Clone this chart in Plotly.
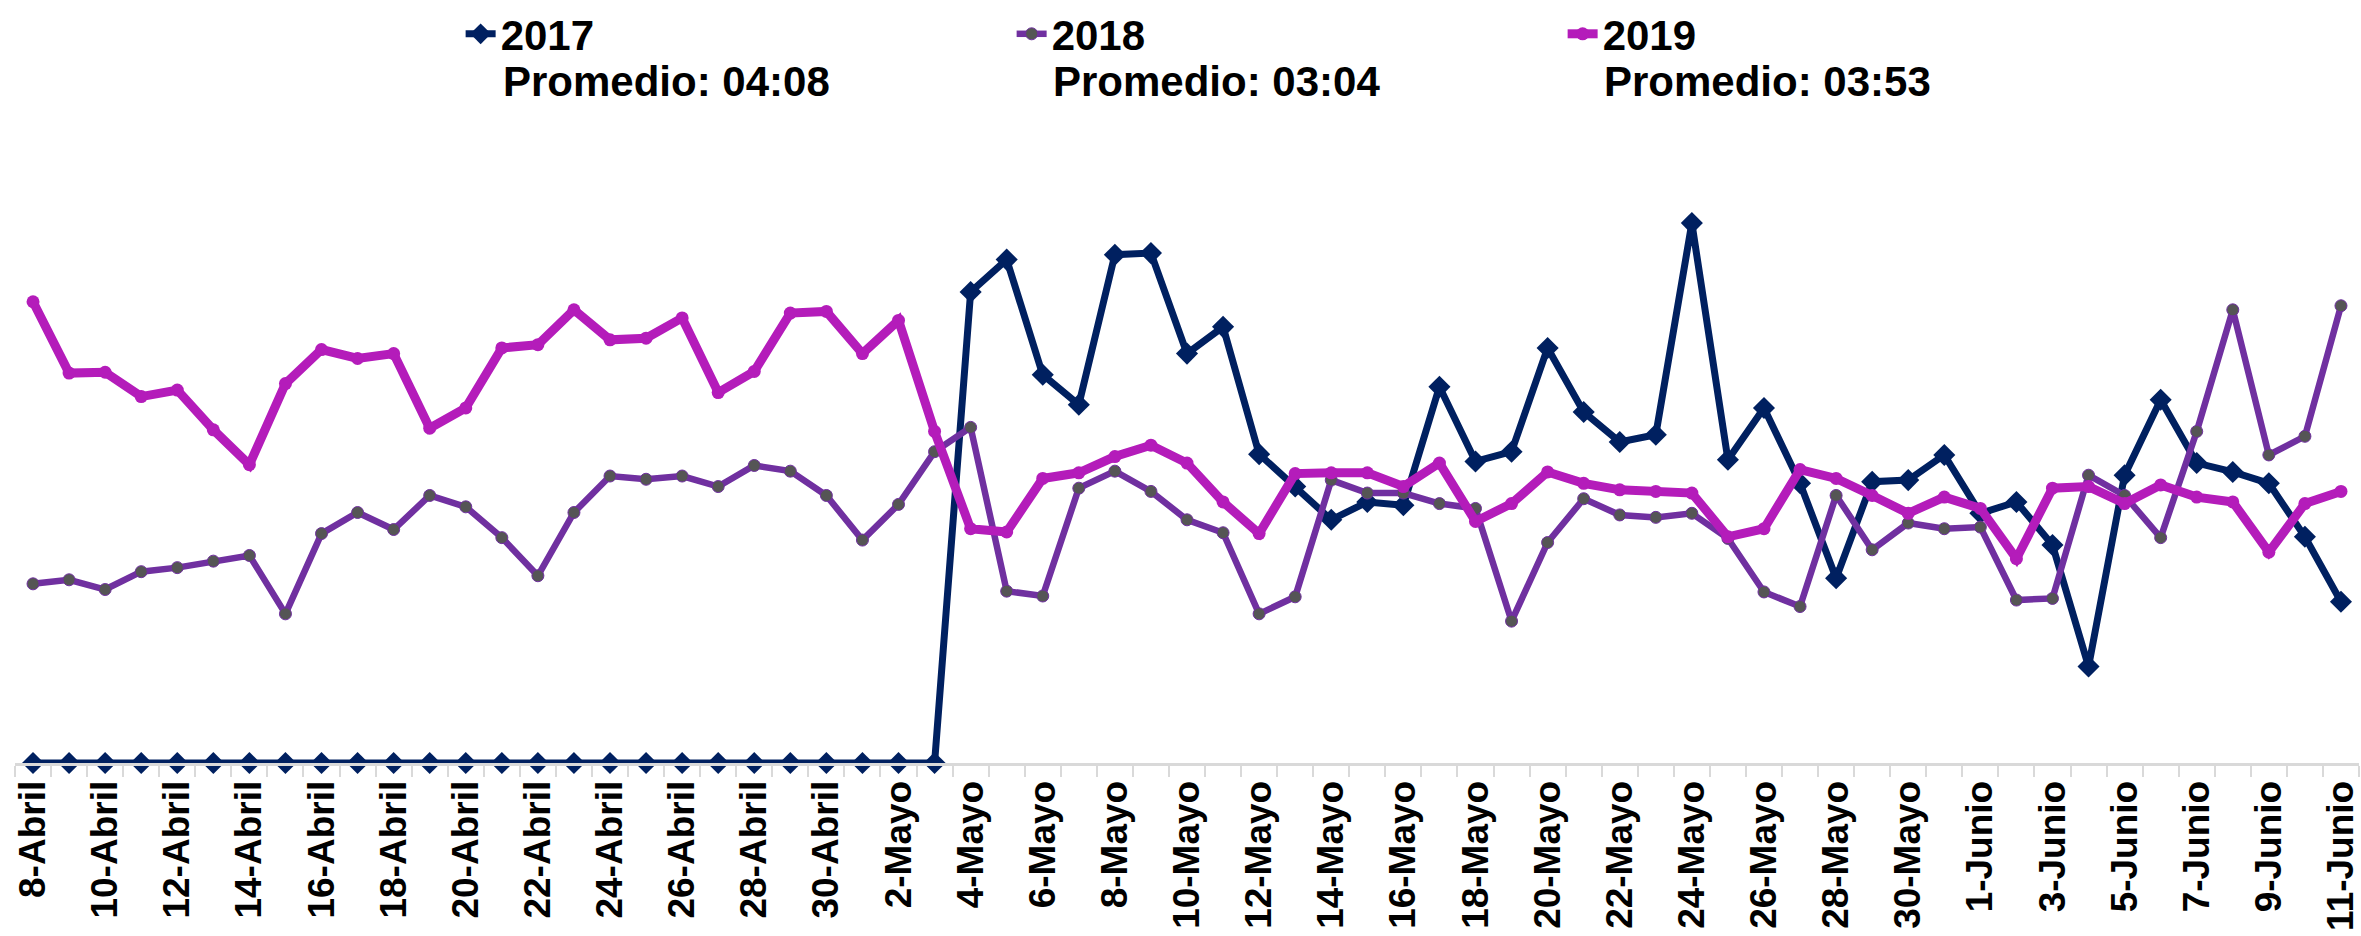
import plotly.graph_objects as go

# dias: 8-Abril ... 11-Junio
dias = ([f"{d}-Abril" for d in range(8, 31)]
        + [f"{d}-Mayo" for d in range(1, 32)]
        + [f"{d}-Junio" for d in range(1, 12)])

# etiquetas visibles (un dia si, uno no)
etiquetas = [d if i % 2 == 0 else "" for i, d in enumerate(dias)]

anios = ["2017", "2018", "2019"]
promedios = ["04:08", "03:04", "03:53"]

# minutos por dia
v2017 = [0, 0, 0, 0, 0, 0, 0, 0, 0, 0, 0, 0, 0,
         0, 0, 0, 0, 0, 0, 0, 0, 0, 0, 0, 0, 0,
         5.81, 6.21, 4.79, 4.42, 6.27, 6.29, 5.05, 5.38, 3.81, 3.41, 3.00, 3.22, 3.18,
         4.64, 3.72, 3.84, 5.12, 4.33, 3.96, 4.05, 6.66, 3.74, 4.38, 3.45, 2.28, 3.47,
         3.49, 3.80, 3.08, 3.22, 2.69, 1.19, 3.55, 4.48, 3.70, 3.59, 3.45, 2.79, 1.99]

v2018 = [2.21, 2.26, 2.14, 2.36, 2.41, 2.49, 2.56, 1.84, 2.83, 3.09, 2.88, 3.30, 3.16,
         2.78, 2.31, 3.09, 3.54, 3.50, 3.54, 3.41, 3.67, 3.60, 3.30, 2.75, 3.19, 3.84,
         4.14, 2.12, 2.06, 3.39, 3.60, 3.35, 3.00, 2.84, 1.84, 2.05, 3.49, 3.33, 3.33,
         3.20, 3.14, 1.75, 2.72, 3.26, 3.06, 3.03, 3.08, 2.77, 2.11, 1.93, 3.30, 2.63,
         2.96, 2.89, 2.91, 2.01, 2.03, 3.55, 3.30, 2.78, 4.09, 5.59, 3.80, 4.03, 5.64]

v2019 = [5.69, 4.81, 4.82, 4.52, 4.60, 4.11, 3.68, 4.68, 5.10, 4.99, 5.05, 4.13, 4.38,
         5.12, 5.16, 5.59, 5.22, 5.24, 5.49, 4.57, 4.83, 5.55, 5.57, 5.05, 5.46, 4.09,
         2.89, 2.85, 3.51, 3.58, 3.78, 3.92, 3.70, 3.22, 2.83, 3.57, 3.58, 3.58, 3.41,
         3.70, 2.98, 3.20, 3.59, 3.45, 3.37, 3.35, 3.33, 2.79, 2.89, 3.62, 3.51, 3.30,
         3.08, 3.28, 3.14, 2.52, 3.39, 3.41, 3.20, 3.43, 3.28, 3.22, 2.60, 3.20, 3.35]

FONT = "Liberation Sans, Arial, sans-serif"
W, H = 2361, 936
ML, MR, MT, MB = 15, 0, 155, 173
PW, PH = W - ML - MR, H - MT - MB

fig = go.Figure()

fig.add_trace(go.Scatter(
    x=dias, y=v2017, name=anios[0], mode="lines+markers",
    line=dict(color="#002060", width=7),
    marker=dict(symbol="diamond", size=17, color="#002060"),
    cliponaxis=False,
))
fig.add_trace(go.Scatter(
    x=dias, y=v2018, name=anios[1], mode="lines+markers",
    line=dict(color="#7030A0", width=6.5),
    marker=dict(symbol="circle", size=12, color="#555555",
                line=dict(color="#7030A0", width=1)),
    cliponaxis=False,
))
fig.add_trace(go.Scatter(
    x=dias, y=v2019, name=anios[2], mode="lines+markers",
    line=dict(color="#B41CBA", width=9),
    marker=dict(symbol="circle", size=13, color="#B41CBA"),
    cliponaxis=False,
))

# segunda linea de cada entrada de la leyenda
for i, p in enumerate(promedios):
    fig.add_annotation(
        text=f"Promedio: {p}", showarrow=False,
        xref="paper", yref="paper",
        x=(501 + i * 551 - ML) / PW, xanchor="left",
        y=(H - MB - 82) / PH, yanchor="middle",
        font=dict(size=42, weight="bold", family=FONT, color="black"),
    )

fig.update_layout(
    width=W, height=H, autosize=False,
    paper_bgcolor="white", plot_bgcolor="rgba(0,0,0,0)",
    margin=dict(l=ML, r=MR, t=MT, b=MB),
    font=dict(family=FONT, color="black"),
    showlegend=True,
    legend=dict(
        orientation="h", xref="container", yref="container",
        x=0.1951, xanchor="left", y=1, yanchor="top",
        font=dict(size=42, weight="bold", family=FONT),
        valign="middle", entrywidth=506, entrywidthmode="pixels",
        bgcolor="rgba(0,0,0,0)", traceorder="normal",
    ),
    xaxis=dict(
        type="category", range=[-0.5, 64.5],
        tickmode="array", tickvals=dias, ticktext=etiquetas,
        tickson="boundaries", ticks="outside", ticklen=11,
        tickcolor="#d9d9d9", tickwidth=2,
        showline=True, linecolor="#d9d9d9", linewidth=3,
        showgrid=False, zeroline=False,
        tickangle=-90,
        tickfont=dict(size=37, weight="bold", family=FONT, color="black"),
    ),
    xaxis2=dict(
        overlaying="x", anchor="y", side="bottom", range=[-0.5, 64.5],
        tickmode="linear", tick0=-0.5, dtick=1,
        ticks="inside", ticklen=11, tickcolor="#d9d9d9", tickwidth=2,
        showticklabels=False, showgrid=False, zeroline=False, showline=False,
    ),
    yaxis=dict(visible=False, range=[0, 7.5]),
)

fig.write_html("out.html", config={"displayModeBar": False},
               post_script="document.body.style.margin='0';document.body.style.overflow='hidden';")
